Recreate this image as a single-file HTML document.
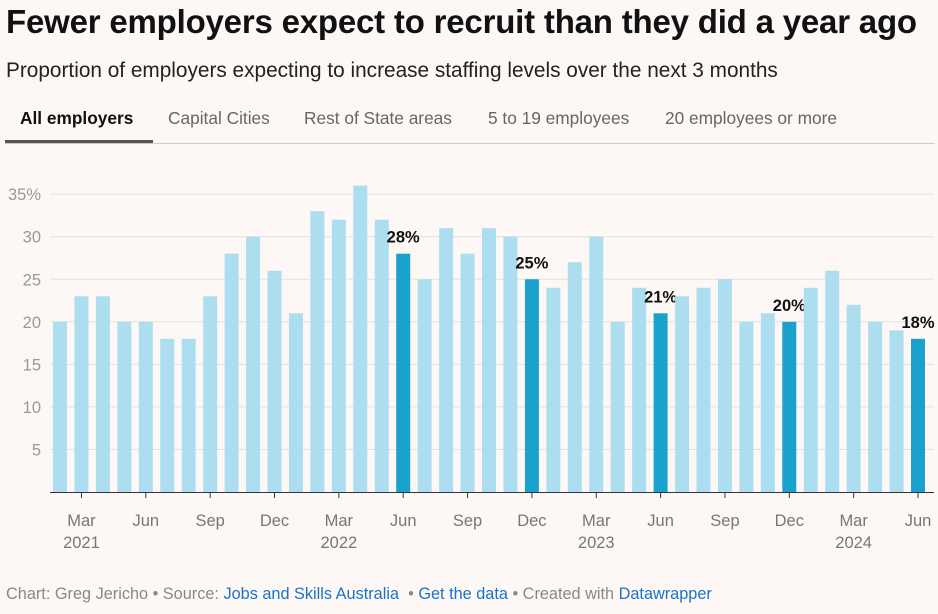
<!DOCTYPE html>
<html><head><meta charset="utf-8"><style>
body{margin:0;width:938px;height:614px;background:#fdf8f5;font-family:"Liberation Sans",Arial,sans-serif;overflow:hidden;position:relative}
h1{position:absolute;left:6px;top:3px;margin:0;font-size:33px;font-weight:bold;color:#111;letter-spacing:-0.2px;white-space:nowrap}
.sub{position:absolute;left:6px;top:59px;font-size:20.8px;color:#222;white-space:nowrap}
.tabs{position:absolute;left:5px;top:108px;width:930px;height:35px;border-bottom:1px solid #ccc}
.tab{position:absolute;top:0;font-size:17.3px;color:#666;white-space:nowrap}
.tab.active{color:#111;font-weight:bold}
.ul{position:absolute;left:5px;top:140px;width:148px;height:3px;background:#555}
.foot{position:absolute;left:6px;top:585px;font-size:16.3px;color:#888;white-space:nowrap}
.foot a{color:#1a73c6;text-decoration:none}
svg{position:absolute;left:0;top:0}
</style></head><body>
<h1>Fewer employers expect to recruit than they did a year ago</h1>
<div class="sub">Proportion of employers expecting to increase staffing levels over the next 3 months</div>
<div class="tabs">
<span class="tab active" style="left:15px">All employers</span>
<span class="tab" style="left:163px">Capital Cities</span>
<span class="tab" style="left:299px">Rest of State areas</span>
<span class="tab" style="left:483px">5 to 19 employees</span>
<span class="tab" style="left:660px">20 employees or more</span>
</div>
<div class="ul"></div>
<svg id="chart" width="938" height="614"></svg>
<div class="foot">Chart: Greg Jericho • Source: <a>Jobs and Skills Australia</a> &nbsp;• <a>Get the data</a> • Created with <a>Datawrapper</a></div>
<script>
const values=[20,23,23,20,20,18,18,23,28,30,26,21,33,32,36,32,28,25,31,28,31,30,25,24,27,30,20,24,21,23,24,25,20,21,20,24,26,22,20,19,18];
const highlights=[16,22,28,34,40];
const yTicks=[5,10,15,20,25,30,35];
const xTickIdx=[1,4,7,10,13,16,19,22,25,28,31,34,37,40];
const xTickLabels=["Mar","Jun","Sep","Dec","Mar","Jun","Sep","Dec","Mar","Jun","Sep","Dec","Mar","Jun"];
const yearLabels={1:"2021",13:"2022",25:"2023",37:"2024"};
const NS="http://www.w3.org/2000/svg",svg=document.getElementById('chart');
const y=v=>492-v*8.51, x=i=>60+i*21.45;
function mk(t,a,txt){const e=document.createElementNS(NS,t);for(const k in a)e.setAttribute(k,a[k]);if(txt!=null)e.textContent=txt;svg.appendChild(e);return e;}
yTicks.forEach(t=>{
 const g=mk('line',{x1:50,x2:934,y1:y(t),y2:y(t),stroke:'#e3e0dd','stroke-width':1});
 
 
 const l=mk('text',{x:41,y:y(t)+6,'text-anchor':'end','font-size':16.5,fill:'#999','font-family':'Liberation Sans'},t===35?'35%':t);
 
 
});
values.forEach((v,i)=>{
 const h=highlights.includes(i);
 const r=mk('rect',{x:x(i)-7,y:y(v),width:14,height:492-y(v),fill:h?'#1aa1cd':'#addef0'});
 
 
 if(h){const t=mk('text',{x:x(i),y:y(v)-11,'text-anchor':'middle','font-size':16.5,'font-weight':'bold',fill:'#111','font-family':'Liberation Sans'},v+'%');
 
 }
});
const ax=mk('line',{x1:50,x2:934,y1:492.5,y2:492.5,stroke:'#333','stroke-width':1});


xTickIdx.forEach((i,k)=>{
 const tk=mk('line',{x1:x(i),x2:x(i),y1:492,y2:498,stroke:'#333'});
 
 
 const t=mk('text',{x:x(i),y:526,'text-anchor':'middle','font-size':16.5,fill:'#777','font-family':'Liberation Sans'},xTickLabels[k]);
 
 
 if(yearLabels[i]){const yl=mk('text',{x:x(i),y:548,'text-anchor':'middle','font-size':16.5,fill:'#777','font-family':'Liberation Sans'},yearLabels[i]);
 
 }
});
</script>
</body></html>
